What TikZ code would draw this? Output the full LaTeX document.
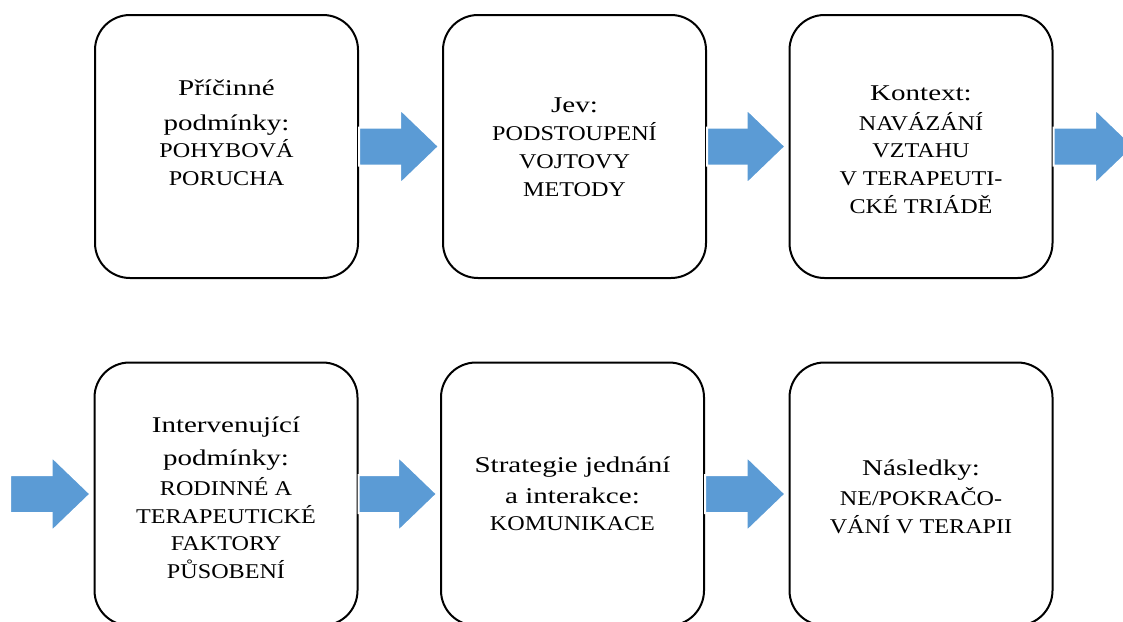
\documentclass[tikz,border=0pt]{standalone}
\usepackage{fontspec}
\setmainfont{Liberation Serif}
\newfontfamily\headfont{Liberation Serif}[FakeStretch=1.29]
\newfontfamily\capsfont{Liberation Serif}[FakeStretch=1.15]
\usetikzlibrary{calc}
\definecolor{arrowblue}{HTML}{5B9BD5}
% heading words inside a box are set larger and wider than the capitals
\newcommand\hd[1]{{\headfont\fontsize{22.5}{28}\selectfont #1}}
% wide block arrow from one anchor to another
\newcommand\blockarrow[2]{%
  \path[blockarrow] let \p1=(#1), \p2=(#2) in
    (\x1,\y1+19pt) -- (\x2-42pt,\y1+19pt) -- (\x2-42pt,\y1+37.5pt) --
    (\x2-3pt,\y1) -- (\x2-42pt,\y1-37.5pt) -- (\x2-42pt,\y1-19pt) --
    (\x1,\y1-19pt) -- cycle;}

\begin{document}
\begin{tikzpicture}[x=1pt,y=-1pt,
  stage/.style={draw=black, line width=2pt, rounded corners=35pt,
    minimum width=263pt, minimum height=263pt, inner sep=0pt},
  % the base anchor of a multi-line text sits on its last line
  boxtext/.style={align=center, anchor=base, inner sep=0pt,
    font=\capsfont\fontsize{21}{28}\selectfont},
  blockarrow/.style={fill=arrowblue, draw=white, line width=2pt}]

\useasboundingbox (0,0) rectangle (1123,621);
\clip (0,0) rectangle (1123,621);

% stages of the paradigm model
\node[stage] (b1) at (226.5,146.5) {};
\node[stage] (b2) at (574.5,146.5) {};
\node[stage] (b3) at (921,146.5) {};
\node[stage] (b4) at (226,494) {};
\node[stage] (b5) at (572.5,494) {};
\node[stage] (b6) at (921,494) {};

\node[boxtext] (t1) at (226.5,185) {\hd{Příčinné}\\[7pt]\hd{podmínky:}\\[-1pt]POHYBOVÁ\\PORUCHA};
\node[boxtext] (t2) at (574.5,196) {\hd{Jev:}\\PODSTOUPENÍ\\VOJTOVY\\METODY};
\node[boxtext] (t3) at (921,213) {\hd{Kontext:}\\[2pt]NAVÁZÁNÍ\\[-1pt]VZTAHU\\V TERAPEUTI-\\CKÉ TRIÁDĚ};
\node[boxtext] (t4) at (226,578) {\hd{Intervenující}\\[5pt]\hd{podmínky:}\\[2pt]RODINNÉ A\\TERAPEUTICKÉ\\[-1pt]FAKTORY\\PŮSOBENÍ};
\node[boxtext] (t5) at (572.5,530) {\hd{Strategie jednání}\\[3pt]\hd{a interakce:}\\[-1pt]KOMUNIKACE};
\node[boxtext] (t6) at (921,533) {\hd{Následky:}\\[2pt]NE/POKRAČO-\\VÁNÍ V TERAPII};

% loose ends of the row-to-row arrows
\coordinate (c3) at (1137,146.5);
\coordinate (c4) at (10,494);

% arrows between the stages
\blockarrow{b1.east}{b2.west}
\blockarrow{b2.east}{b3.west}
\blockarrow{b3.east}{c3}
\blockarrow{c4}{b4.west}
\blockarrow{b4.east}{b5.west}
\blockarrow{b5.east}{b6.west}
\end{tikzpicture}
\end{document}
